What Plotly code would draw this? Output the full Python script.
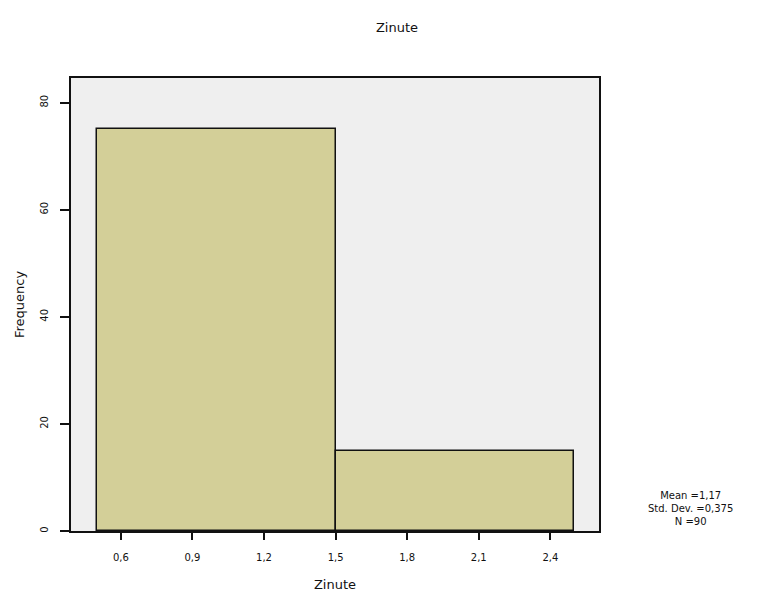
import plotly.graph_objects as go

# Data
bin_centers = [1.0, 2.0]
bin_widths = [1.0, 1.0]
frequencies = [75, 15]
x_tick_vals = [0.6, 0.9, 1.2, 1.5, 1.8, 2.1, 2.4]
x_tick_text = ["0,6", "0,9", "1,2", "1,5", "1,8", "2,1", "2,4"]
y_tick_vals = [0, 20, 40, 60, 80]
stats_text = "Mean =1,17<br>Std. Dev. =0,375<br>N =90"

fig = go.Figure()
fig.add_trace(go.Bar(
    x=bin_centers, y=frequencies, width=bin_widths,
    marker=dict(color="#d3cf98", line=dict(color="#111111", width=1.5)),
    showlegend=False,
))

font = "DejaVu Sans, Liberation Sans, sans-serif"
# page body has an 8px margin, so figure coords = screen coords - 8
fig.update_layout(
    width=766, height=599,
    margin=dict(l=63, r=175, t=70, b=76),
    paper_bgcolor="white", plot_bgcolor="#efefef",
    font=dict(family=font, size=11, color="#111111"),
    title=dict(text="Zinute", x=389/766, xanchor="center", y=1-19/599, yanchor="middle",
               font=dict(size=13)),
    bargap=0,
    xaxis=dict(
        range=[0.391, 2.604], tickvals=x_tick_vals, ticktext=x_tick_text,
        ticks="outside", ticklen=7, tickwidth=1.5, tickcolor="#111111",
        ticklabelstandoff=9, automargin=False,
        showline=True, linecolor="#111111", linewidth=1.5, mirror=True,
        showgrid=False, zeroline=False, tickfont=dict(size=10),
        title=dict(text="Zinute", font=dict(size=13), standoff=18),
    ),
    yaxis=dict(
        range=[0, 84.6], tickvals=y_tick_vals, tickangle=-90,
        ticks="outside", ticklen=9, tickwidth=1.5, tickcolor="#111111",
        ticklabelstandoff=8, automargin=False,
        showline=True, linecolor="#111111", linewidth=1.5, mirror=True,
        showgrid=False, zeroline=False, tickfont=dict(size=10),
        title=dict(text="Frequency", font=dict(size=13), standoff=12),
    ),
)
fig.add_annotation(
    text=stats_text, xref="paper", yref="paper",
    x=(690-71)/(599-71), y=(531-508)/(531-78),
    xanchor="center", yanchor="middle", showarrow=False,
    font=dict(size=10), align="center",
)
fig.write_html("out.html")
